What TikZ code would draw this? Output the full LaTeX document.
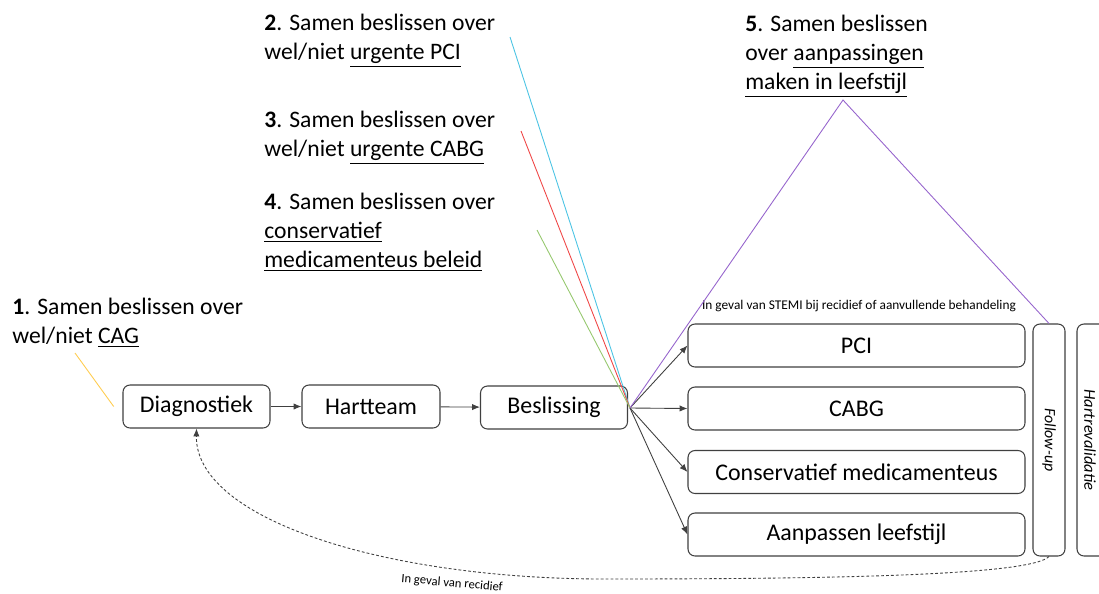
\documentclass[tikz,border=0pt]{standalone}
\usepackage{fontspec}
\setmainfont{Carlito}
\usetikzlibrary{calc,arrows.meta}

\definecolor{lijngrijs}{RGB}{64,64,64}
\definecolor{cyaan}{RGB}{75,196,228}
\definecolor{rood}{RGB}{240,70,70}
\definecolor{groen}{RGB}{150,200,110}
\definecolor{geel}{RGB}{255,205,80}
\definecolor{paars}{RGB}{150,100,205}

\tikzset{
    stap/.style={draw=lijngrijs,line width=0.6pt,rounded corners=4pt,minimum height=43*0.02cm,
        font=\fontsize{13.6}{16}\selectfont,inner sep=0pt},
    keuze/.style={stap,minimum width=337*0.02cm},
    zijbalk/.style={stap,minimum width=32*0.02cm,minimum height=232*0.02cm},
    vraag/.style={align=left,anchor=north west,inner sep=0pt,font=\fontsize{13.45}{16.4}\selectfont},
    klein/.style={font=\fontsize{7.6}{9}\selectfont,inner sep=0pt},
    pijl/.style={-{Latex[length=4.5pt,width=3.6pt]},lijngrijs,line width=0.5pt},
}

\begin{document}
\begin{tikzpicture}[x=0.02cm,y=-0.02cm]
    \clip (0,0) rectangle (1099,593);
    \fill[white] (0,0) rectangle (1099,593);
    % main route
    \node[stap,minimum width=147*0.02cm] (diag) at (196.5,406.5) {Diagnostiek};
    \node[stap,minimum width=138*0.02cm] (hart) at (371,406.5) {Hartteam};
    \node[stap,minimum width=147*0.02cm] (besl) at (554,407.5) {Beslissing};
    \draw[pijl] (diag) -- (hart);
    \draw[pijl] (hart) -- (besl);
    % treatment options
    \node[keuze] (pci) at (856.5,345.5) {PCI};
    \node[keuze] (cabg) at (856.5,408.5) {CABG};
    \node[keuze] (cons) at (856.5,472) {Conservatief medicamenteus};
    \node[keuze] (leef) at (856.5,534.5) {Aanpassen leefstijl};
    \coordinate (splits) at (630,408);
    \foreach \doel in {pci,cabg,cons,leef}
        \draw[pijl] (splits) -- (\doel.west);
    \node[zijbalk] (follow) at (1049,440) {};
    \node[zijbalk,minimum width=40*0.02cm] (revalid) at (1097,440) {};
    \node[klein,font=\fontsize{9}{10}\selectfont\itshape,rotate=-90] at (follow) {Follow-up};
    \node[klein,font=\fontsize{9.4}{10}\selectfont\itshape,rotate=-90] at (1090,440) {Hartrevalidatie};
    \node[klein] (stemi) at (859,306) {In geval van STEMI bij recidief of aanvullende behandeling};
    % decision questions
    \node[vraag] (v1) at (12,298) {\textbf{1}. Samen beslissen over\\wel/niet \underline{CAG}};
    \node[vraag] (v2) at (264,14) {\textbf{2}. Samen beslissen over\\wel/niet \underline{urgente PCI}};
    \node[vraag] (v3) at (264,111) {\textbf{3}. Samen beslissen over\\wel/niet \underline{urgente CABG}};
    \node[vraag] (v4) at (264,193) {\textbf{4}. Samen beslissen over\\\underline{conservatief}\\\underline{medicamenteus beleid}};
    \node[vraag] (v5) at (745,15) {\textbf{5}. Samen beslissen\\over \underline{aanpassingen}\\\underline{maken in leefstijl}};
    \coordinate (c1) at (75,353);
    \coordinate (c2) at (510,37);
    \coordinate (c3) at (521,131);
    \coordinate (c4) at (537,230);
    \coordinate (top5) at (843,100);
    \draw[geel,line width=0.5pt] (c1) -- ([xshift=-5pt]diag.west);
    \draw[cyaan,line width=0.5pt] (c2) -- (splits);
    \draw[rood,line width=0.5pt] (c3) -- (splits);
    \draw[groen,line width=0.5pt] (c4) -- (splits);
    \draw[paars,line width=0.5pt] (splits) -- (top5) -- (follow.north);
    % back to diagnostics
    \draw[pijl,dash pattern=on 1.6pt off 1.2pt]
        (follow.south) .. controls (1030,576) and (820,579) .. (600,579)
        .. controls (380,578) and (195,518) .. (diag.south);
    \node[klein,font=\fontsize{7.2}{8}\selectfont,rotate=-5] (recid) at (452,583.5) {In geval van recidief};
\end{tikzpicture}
\end{document}
